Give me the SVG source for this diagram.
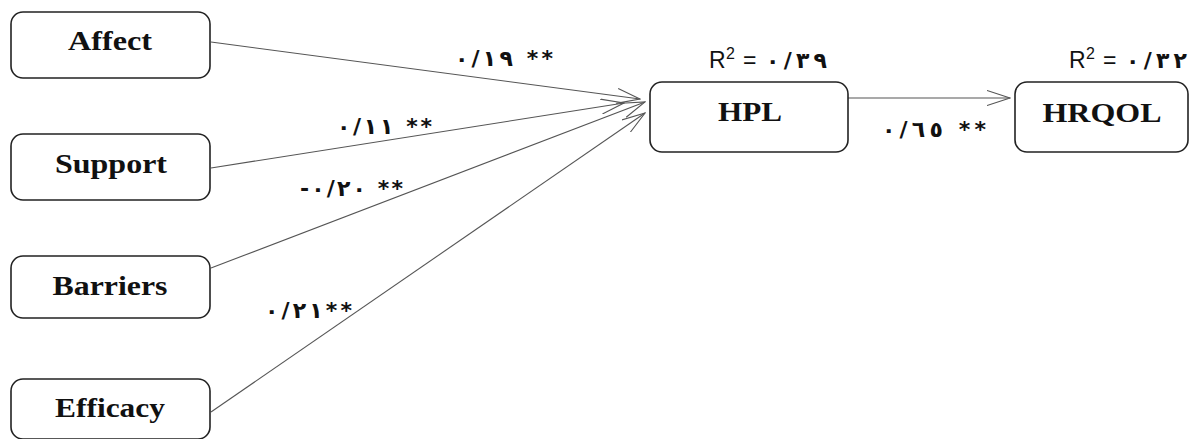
<svg xmlns="http://www.w3.org/2000/svg" width="1192" height="439" viewBox="0 0 1192 439">
<style>
.box{fill:#fff;stroke:#222;stroke-width:1.6}
.nt{font-family:"Liberation Serif","Times New Roman",serif;font-weight:bold;font-size:27px;fill:#111;text-anchor:middle}
.ln{stroke:#555;stroke-width:1.1;fill:none}
.lb{font-family:"DejaVu Sans",sans-serif;font-weight:bold;font-size:22px;fill:#111}
.r{font-family:"Liberation Sans",Arial,sans-serif;font-size:23px;fill:#111}
.sup{font-size:16px}
.rd{font-family:"DejaVu Sans",sans-serif;font-weight:bold;font-size:22px;fill:#111}
</style>
<defs>
<marker id="ah" viewBox="0 0 24 16" refX="23" refY="8" markerWidth="24" markerHeight="16" orient="auto" markerUnits="userSpaceOnUse">
<path d="M0,0.5 L23,8 L0,15.5" fill="none" stroke="#555" stroke-width="1.1"/>
</marker>
</defs>
<g id="connectors">
<line class="ln" x1="211" y1="42" x2="640" y2="99" marker-end="url(#ah)"/>
<line class="ln" x1="211" y1="168" x2="624" y2="103" marker-end="url(#ah)"/>
<line class="ln" x1="211" y1="268" x2="645" y2="102" marker-end="url(#ah)"/>
<line class="ln" x1="211" y1="412" x2="645" y2="113" marker-end="url(#ah)"/>
<line class="ln" x1="848" y1="98" x2="1010" y2="98" marker-end="url(#ah)"/>
</g>
<g id="labels">
<text class="lb" x="455" y="66" textLength="98" lengthAdjust="spacing" direction="ltr" unicode-bidi="bidi-override">٠/١٩ **</text>
<text class="lb" x="337" y="134" textLength="95" lengthAdjust="spacing" direction="ltr" unicode-bidi="bidi-override">٠/١١ **</text>
<text class="lb" x="300" y="196" textLength="103" lengthAdjust="spacing" direction="ltr" unicode-bidi="bidi-override">-٠/٢٠ **</text>
<text class="lb" x="265" y="318" textLength="87" lengthAdjust="spacing" direction="ltr" unicode-bidi="bidi-override">٠/٢١**</text>
<text class="lb" x="882" y="137" textLength="104" lengthAdjust="spacing" direction="ltr" unicode-bidi="bidi-override">٠/٦٥ **</text>
</g>
<g id="node-affect">
<rect class="box" x="11" y="12" width="199" height="66" rx="12"/>
<text class="nt" x="110" y="50" textLength="84" lengthAdjust="spacingAndGlyphs">Affect</text>
</g>
<g id="node-support">
<rect class="box" x="11" y="134" width="199" height="66" rx="12"/>
<text class="nt" x="111" y="173" textLength="112" lengthAdjust="spacingAndGlyphs">Support</text>
</g>
<g id="node-barriers">
<rect class="box" x="11" y="256" width="199" height="62" rx="12"/>
<text class="nt" x="110" y="295" textLength="115" lengthAdjust="spacingAndGlyphs">Barriers</text>
</g>
<g id="node-efficacy">
<rect class="box" x="11" y="379" width="199" height="60" rx="12"/>
<text class="nt" x="110" y="417" textLength="110" lengthAdjust="spacingAndGlyphs">Efficacy</text>
</g>
<g id="node-hpl">
<rect class="box" x="650" y="82" width="198" height="70" rx="12"/>
<text class="nt" x="750" y="121" textLength="64" lengthAdjust="spacingAndGlyphs">HPL</text>
<text class="r" x="709" y="68">R<tspan class="sup" x="726" y="59">2</tspan><tspan x="743" y="68">=</tspan></text>
<text class="rd" x="766" y="68" textLength="61" lengthAdjust="spacing" direction="ltr" unicode-bidi="bidi-override">٠/٣٩</text>
</g>
<g id="node-hrqol">
<rect class="box" x="1015" y="82" width="173" height="70" rx="12"/>
<text class="nt" x="1102" y="122" textLength="119" lengthAdjust="spacingAndGlyphs">HRQOL</text>
<text class="r" x="1069" y="68">R<tspan class="sup" x="1086" y="59">2</tspan><tspan x="1103" y="68">=</tspan></text>
<text class="rd" x="1126" y="68" textLength="61" lengthAdjust="spacing" direction="ltr" unicode-bidi="bidi-override">٠/٣٢</text>
</g>
</svg>
